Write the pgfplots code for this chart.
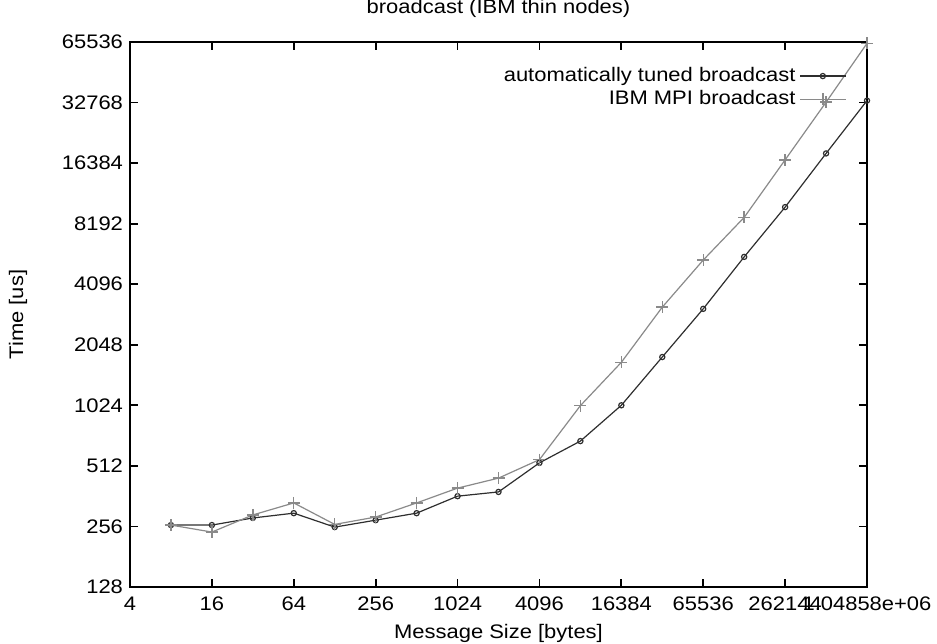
\documentclass[border=0pt]{standalone}
\usepackage{fontspec}
\setmainfont{Liberation Sans}[FakeStretch=1.12]
\usepackage{pgfplots}
\pgfplotsset{compat=1.18}
\usetikzlibrary{calc}
\definecolor{tuned}{HTML}{2E2E2E}
\definecolor{ibm}{HTML}{8A8A8A}

\begin{document}
\begin{tikzpicture}
\begin{axis}[
  name=ax,
  scale only axis,
  width=368.5pt, height=272.5pt,
  xmode=log, ymode=log,
  log basis x=2, log basis y=2,
  xmin=4, xmax=1048576,
  ymin=128, ymax=65536,
  xtick={4,16,64,256,1024,4096,16384,65536,262144,1048576},
  xticklabels={4,16,64,256,1024,4096,16384,65536,262144,1.04858e+06},
  ytick={128,256,512,1024,2048,4096,8192,16384,32768,65536},
  yticklabels={128,256,512,1024,2048,4096,8192,16384,32768,65536},
  minor xtick={}, minor ytick={},
  tick align=inside,
  major tick length=4pt,
  axis line style={line width=0.9pt},
  every tick/.style={line width=0.9pt,black},
  tick label style={font=\fontsize{9.8}{11}\selectfont},
  xticklabel style={yshift=-1.5pt},
  /pgf/number format/assume math mode=true,
  title={broadcast (IBM thin nodes)},
  title style={font=\fontsize{9.8}{11}\selectfont, at={(axis description cs:0.5,1.04)}, anchor=center},
  xlabel={Message Size [bytes]},
  xlabel style={font=\fontsize{9.8}{11}\selectfont, at={(axis description cs:0.5,-0.0844)}, anchor=center},
  ylabel={Time [us]},
  ylabel style={font=\fontsize{9.8}{11}\selectfont, at={(axis description cs:-0.152,0.5)}, anchor=center},
  legend style={at={(axis description cs:0.975,0.965)}, anchor=north east,
                draw=none, fill=none, font=\fontsize{9.8}{11}\selectfont,
                row sep=-1pt, inner sep=1pt},
  legend cell align=right,
  legend plot pos=right,
  legend image code/.code={\draw[mark repeat=2,mark phase=2] plot coordinates {(0cm,0cm) (0.4cm,0cm) (0.8cm,0cm)};},
]
\addplot[color=tuned, line width=0.6pt, mark=o, mark size=1.3pt, mark options={solid, line width=0.6pt}] coordinates {
  (8,260) (16,260) (32,282) (64,298) (128,254) (256,275) (512,298)
  (1024,362) (2048,380) (4096,530) (8192,680) (16384,1024) (32768,1780)
  (65536,3090) (131072,5600) (262144,9900) (524288,18300) (1048576,33500)
};
\addlegendentry{automatically tuned broadcast}
\addplot[color=ibm, line width=0.6pt, mark=+, mark size=3pt, mark options={solid, line width=0.7pt}] coordinates {
  (8,260) (16,240) (32,292) (64,335) (128,262) (256,285) (512,335)
  (1024,397) (2048,445) (4096,550) (8192,1020) (16384,1675) (32768,3150)
  (65536,5400) (131072,8800) (262144,17000) (524288,32900) (1048576,64500)
};
\addlegendentry{IBM MPI broadcast}
\end{axis}
\pgfresetboundingbox
\useasboundingbox ($(ax.south west)+(-65pt,-28.5pt)$) rectangle ($(ax.north east)+(35pt,21pt)$);
\end{tikzpicture}
\end{document}
